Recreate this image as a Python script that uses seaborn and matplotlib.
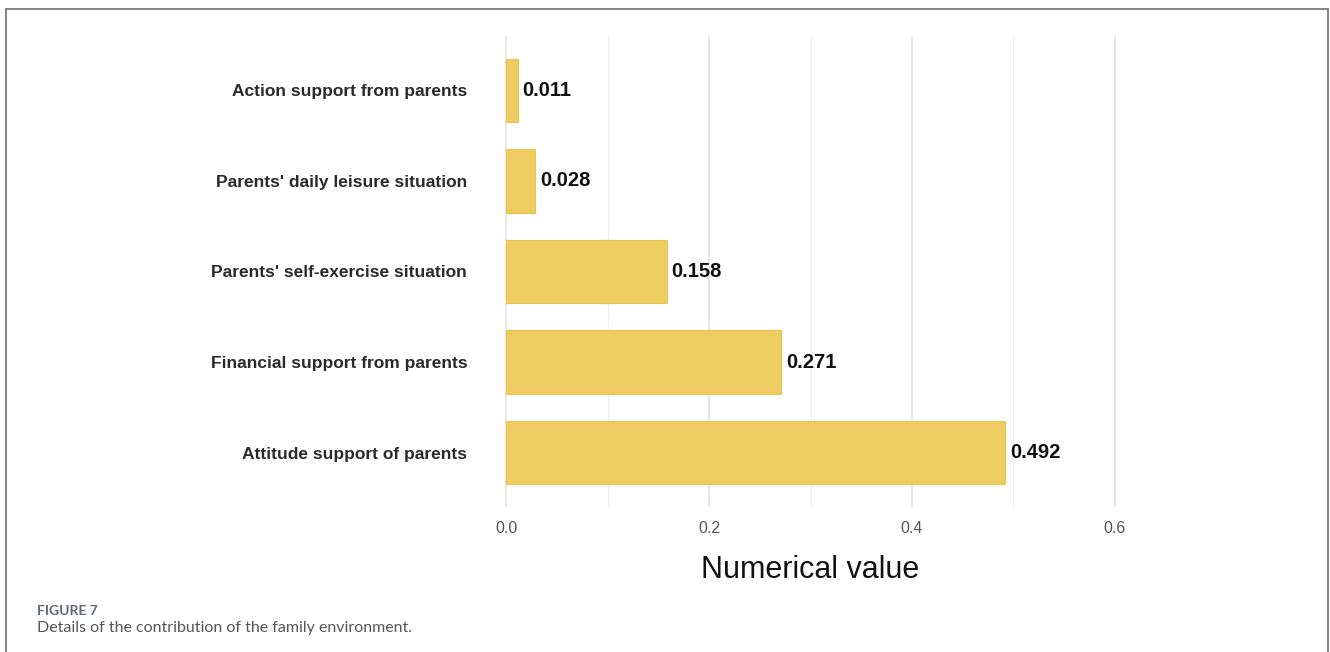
import matplotlib
matplotlib.use("Agg")
import matplotlib.pyplot as plt
from matplotlib.lines import Line2D
from matplotlib.ticker import MultipleLocator
import seaborn as sns
import pandas as pd

factors = ["Action support from parents",
           "Parents' daily leisure situation",
           "Parents' self-exercise situation",
           "Financial support from parents",
           "Attitude support of parents"]
contrib = [0.011, 0.028, 0.158, 0.271, 0.492]
x_ticks = [0.0, 0.2, 0.4, 0.6]

df = pd.DataFrame({"factor": factors, "value": contrib})

sns.set_style("white")
plt.rcParams["font.family"] = ["Liberation Sans", "DejaVu Sans"]

W, H = 1330, 652
fig = plt.figure(figsize=(13.3, 6.52), dpi=100)
ax = fig.add_axes([470 / W, 1 - 507 / H, (1150 - 470) / W, (507 - 36) / H])

sns.barplot(data=df, x="value", y="factor", orient="h", color="#EDCD62",
            width=0.7, edgecolor="#E8C451", linewidth=0.8, saturation=1, ax=ax)

for i, v in enumerate(contrib):
    ax.text(v + 0.005, i, f"{v:.3f}", va="center", ha="left",
            fontsize=14.5, fontweight="bold", color="#111111")

ax.set_xlim(-0.036, 0.635)
ax.set_ylim(4.6, -0.6)
ax.set_xticks(x_ticks)
ax.set_xticklabels([f"{t:.1f}" for t in x_ticks])
ax.xaxis.set_minor_locator(MultipleLocator(0.1))
ax.grid(axis="x", which="major", color="#E3E3E3", linewidth=1.2)
ax.grid(axis="x", which="minor", color="#EEEEEE", linewidth=0.8)
ax.set_axisbelow(True)
for s in ax.spines.values():
    s.set_visible(False)
ax.tick_params(axis="both", which="both", length=0)
ax.tick_params(axis="x", labelsize=11.5, labelcolor="#555555", pad=10)
ax.tick_params(axis="y", labelsize=12.5, labelcolor="#2a2a2a", pad=2)
for lab in ax.get_yticklabels():
    lab.set_fontweight("bold")
ax.set_ylabel("")
ax.set_xlabel("Numerical value", fontsize=22, color="#111111")
ax.xaxis.label.set_va("baseline")
ax.xaxis.set_label_coords(0.5, -71 / 471)

# frame and caption
fc = "#7a7a7a"
fig.add_artist(Line2D([6 / W, 6 / W], [0, 1 - 9 / H], color=fc, lw=1.3, transform=fig.transFigure))
fig.add_artist(Line2D([6 / W, 1328 / W], [1 - 9 / H, 1 - 9 / H], color=fc, lw=1.3, transform=fig.transFigure))
fig.add_artist(Line2D([1328 / W, 1328 / W], [0, 1 - 9 / H], color=fc, lw=1.3, transform=fig.transFigure))
fig.text(37 / W, 1 - 615 / H, "FIGURE 7", fontsize=10, fontweight="bold", color="#5f6670",
         va="baseline", ha="left", family=["Lato", "DejaVu Sans"])
fig.text(37 / W, 1 - 632 / H, "Details of the contribution of the family environment.",
         fontsize=11.5, color="#555555", va="baseline", ha="left", family=["Lato", "DejaVu Sans"])

fig.savefig("out.png", dpi=100)
